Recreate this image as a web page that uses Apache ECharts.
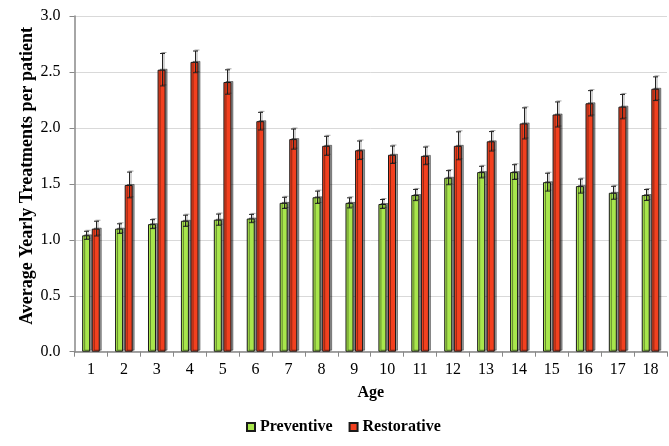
<!DOCTYPE html>
<html>
<head>
<meta charset="utf-8">
<script src="https://cdn.jsdelivr.net/npm/echarts@6/dist/echarts.min.js"></script>
<style>
html,body{margin:0;padding:0;background:#fff;}
#chart{width:669px;height:446px;}
</style>
</head>
<body>
<div id="chart"></div>
<script>
const categories = ['1','2','3','4','5','6','7','8','9','10','11','12','13','14','15','16','17','18'];
const preventive = [1.04,1.10,1.14,1.17,1.18,1.19,1.33,1.38,1.33,1.32,1.40,1.555,1.605,1.605,1.515,1.48,1.42,1.40];
const restorative = [1.10,1.49,2.52,2.59,2.41,2.06,1.90,1.84,1.80,1.76,1.75,1.84,1.88,2.04,2.12,2.22,2.19,2.35];
const preventiveErr = [0.036,0.043,0.04,0.05,0.05,0.037,0.05,0.055,0.045,0.04,0.05,0.063,0.052,0.066,0.08,0.063,0.058,0.049];
const restorativeErr = [0.066,0.115,0.145,0.097,0.109,0.079,0.09,0.085,0.083,0.078,0.079,0.125,0.087,0.139,0.112,0.113,0.109,0.106];
const yTicks = ['0.0','0.5','1.0','1.5','2.0','2.5','3.0'];

const FONT = "'Liberation Serif','Times New Roman',serif";
const BAR_W = 8;
const GAP = 1.6;

function errSeries(name, vals, errs, sign) {
  return {
    name: name + ' err',
    type: 'custom',
    z: 5,
    silent: true,
    data: vals.map((v, i) => [i, v, errs[i]]),
    encode: { x: 0, y: 1 },
    renderItem: function (params, api) {
      const off = sign * (BAR_W / 2 + GAP / 2);
      const c = api.coord([api.value(0), 0]);
      const x = Math.round(c[0] + off) + 0.5;
      const v = api.value(1), e = api.value(2);
      const yt = api.coord([api.value(0), v + e])[1];
      const yb = api.coord([api.value(0), v - e])[1];
      const st = { stroke: '#222', lineWidth: 1, shadowColor: 'rgba(0,0,0,0.35)', shadowOffsetX: 1.5, shadowOffsetY: -1, shadowBlur: 0 };
      return {
        type: 'group',
        children: [
          { type: 'line', shape: { x1: x, y1: yt, x2: x, y2: yb }, style: st },
          { type: 'line', shape: { x1: x - 2.5, y1: yt, x2: x + 2.5, y2: yt }, style: st },
          { type: 'line', shape: { x1: x - 2.5, y1: yb, x2: x + 2.5, y2: yb }, style: st }
        ]
      };
    }
  };
}

const chart = echarts.init(document.getElementById('chart'));
chart.setOption({
  animation: false,
  backgroundColor: '#fff',
  textStyle: { fontFamily: FONT, color: '#000' },
  grid: { left: 74.5, right: 2, top: 16, bottom: 94.3, containLabel: false },
  legend: {
    data: ['Preventive', 'Restorative'],
    left: 241,
    top: 414,
    itemWidth: 8,
    itemHeight: 8,
    itemGap: 16,
    icon: 'rect',
    textStyle: { fontFamily: FONT, fontWeight: 'bold', fontSize: 16, color: '#000' }
  },
  xAxis: {
    type: 'category',
    data: categories,
    name: 'Age',
    nameLocation: 'middle',
    nameGap: 33,
    nameMoveOverlap: false,
    nameTextStyle: { fontFamily: FONT, fontWeight: 'bold', fontSize: 16, color: '#000' },
    axisLine: { lineStyle: { color: '#888', width: 1.5 } },
    axisTick: { show: true, length: 5, lineStyle: { color: '#888' } },
    axisLabel: { fontFamily: FONT, fontSize: 16, color: '#000', margin: 10 },
    splitLine: { show: false }
  },
  yAxis: {
    type: 'value',
    min: 0,
    max: 3,
    interval: 0.5,
    name: 'Average Yearly Treatments per patient',
    nameLocation: 'middle',
    nameGap: 38,
    nameMoveOverlap: false,
    nameTextStyle: { fontFamily: FONT, fontWeight: 'bold', fontSize: 18, color: '#000', padding: [0, 0, 0, 16] },
    axisLine: { show: true, lineStyle: { color: '#888', width: 1.5 } },
    axisTick: { show: true, length: 5, lineStyle: { color: '#888' } },
    axisLabel: {
      fontFamily: FONT, fontSize: 16, color: '#000', margin: 14,
      formatter: function (v) { return yTicks[Math.round(v / 0.5)]; }
    },
    splitLine: { show: true, lineStyle: { color: '#d9d9d9', width: 1 } }
  },
  series: [
    {
      name: 'Preventive',
      type: 'bar',
      data: preventive,
      barWidth: BAR_W,
      barGap: '20%',
      itemStyle: { color: '#a8e64c', borderColor: '#1a1a1a', borderWidth: 1, shadowColor: 'rgba(0,0,0,0.4)', shadowOffsetX: 2, shadowOffsetY: -1, shadowBlur: 0 }
    },
    {
      name: 'Restorative',
      type: 'bar',
      data: restorative,
      barWidth: BAR_W,
      barGap: '20%',
      itemStyle: { color: '#f2401f', borderColor: '#1a1a1a', borderWidth: 1, shadowColor: 'rgba(0,0,0,0.4)', shadowOffsetX: 2, shadowOffsetY: -1, shadowBlur: 0 }
    },
    errSeries('Preventive', preventive, preventiveErr, -1),
    errSeries('Restorative', restorative, restorativeErr, 1)
  ]
});
</script>
</body>
</html>
